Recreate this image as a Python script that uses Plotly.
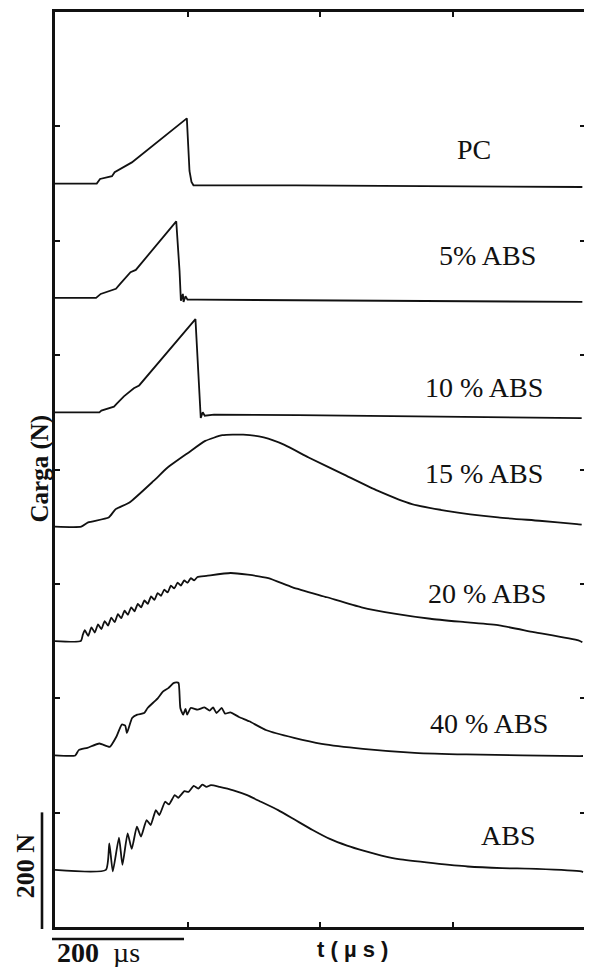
import plotly.graph_objects as go

# ---- data (t in microseconds, load in N relative to each trace baseline) ----
series_names = ["PC", "5% ABS", "10 % ABS", "15 % ABS", "20 % ABS", "40 % ABS", "ABS"]
baselines = [1300, 1100, 900, 700, 500, 300, 100]

t_pc = [0, 63, 68, 86, 90, 105, 116, 199, 203, 206, 209, 364, 796]
f_pc = [0, 0, 8, 13, 20, 30, 37, 114, 22, 3, -3, -3, -6]

t_5 = [0, 62, 69, 83, 92, 98, 110, 114, 122, 183, 188, 190, 193, 194, 197, 200, 215, 365, 796]
f_5 = [0, 0, 7, 12, 16, 24, 40, 45, 49, 134, 47, -5, 7, -7, 3, -3, -3, -4, -7]

t_10 = [0, 67, 70, 89, 94, 104, 119, 127, 212, 216, 219, 220, 223, 226, 240, 367, 795]
f_10 = [0, 0, 3, 10, 16, 28, 42, 47, 163, 73, 10, -10, 0, -6, -4, -5, -10]

t_15 = [0, 39.6, 50, 81, 91.6, 112.4, 148.8, 169.6, 200.8, 226.8, 252.8, 284, 315,
        346.4, 382.8, 434.8, 486.8, 538.8, 590.8, 668.8, 731.2, 788, 795]
f_15 = [0, 0, 7.5, 16, 30.7, 42.3, 80, 103, 129, 150, 160, 161, 156,
        143, 121, 92, 63, 39.4, 27.8, 16.2, 10.4, 4.6, 3.5]

t_20 = [0, 39, 42, 45, 50, 55, 60, 65, 70, 75, 80, 85, 90, 95, 100, 105, 110, 115, 120,
        125, 130, 135, 140, 145, 150, 155, 160, 165, 170, 175, 180, 185, 190, 195, 200,
        205, 210, 215, 228.6, 265, 291, 322, 358.6, 410.6, 462.6, 514.6, 566.6, 618.6,
        670.6, 722.6, 790, 796]
f_20 = [0, 0, 11, 19, 9, 24, 15, 29, 21, 35, 27, 41, 33, 47, 40, 53, 46, 59, 52,
        65, 59, 71, 65, 78, 72, 84, 79, 90, 85, 97, 92, 102, 97, 106, 102,
        110, 106, 112, 114, 119, 116, 110, 94, 76.6, 59, 47.6, 39, 33,
        27.3, 15.7, 1.2, -2]

t_40 = [0, 30.6, 35.8, 48.8, 67, 82.6, 93, 100.8, 106, 108.6, 116.4, 124.2, 134.6,
        139.8, 150.2, 155.4, 163.2, 171, 178.8, 184, 186.6, 189.2, 193.4, 197, 199.6,
        204.8, 215.2, 225.6, 233.4, 238.6, 243.8, 251.6, 256.8, 264.6, 277.6, 293.2,
        319.2, 360.8, 402.4, 464.8, 542.8, 620.8, 792.4, 797]
f_40 = [0, 0, 9.3, 13.3, 20.9, 15.1, 33.6, 54, 52.2, 39.4, 65.5, 71.3, 74.2,
        83, 94.5, 100.3, 112, 117.7, 126.4, 127.6, 126.4, 83, 71.3, 81.2, 71.3,
        83, 80, 84, 78.3, 84, 74.2, 83, 73, 75.4, 67.3, 59.7,
        44, 30.7, 20.3, 11.6, 4.6, 1.7, -1.2, -1]

t_abs = [0, 76.8, 82, 87.2, 96.6, 101.8, 109.6, 115.8, 123.6, 129.8, 138.2, 144.4,
         152.2, 157.4, 166.2, 172, 180.8, 186, 195.4, 201.6, 209.4, 216.2, 222.4,
         228.6, 235.4, 248.4, 269.2, 290, 310.8, 336.8, 362.8, 388.8, 414.8, 440.8,
         466.8, 492.8, 518.8, 570.8, 622.8, 674.8, 726.8, 794.4, 797]
f_abs = [0, 0, 46.4, -2.9, 56.3, 8.7, 63.8, 36.5, 75.4, 58, 87, 78.3,
         104.4, 95.7, 119, 114.3, 130.5, 126, 137.5, 136.3, 146.7, 142, 149,
         145, 148, 145, 139, 130.5, 119, 104.4, 87, 69.6, 54, 42.3,
         33, 25, 18.6, 11.6, 5.8, 2.9, 1.7, -2.9, -4]

y_ticks = [200, 400, 600, 800, 1000, 1200, 1400]
x_ticks = [200, 400, 600]

series_t = [t_pc, t_5, t_10, t_15, t_20, t_40, t_abs]
series_f = [f_pc, f_5, f_10, f_15, f_20, f_40, f_abs]
series_shape = ["linear", "linear", "linear", "spline", "spline", "spline", "spline"]

W, H = 592, 967
OFF = 8  # default page body margin
L, R, T, B = 47, 15, 1, 48


def px(xp):
    return (xp - OFF - L) / (W - L - R)


def py(yp):
    return (H - B - (yp - OFF)) / (H - T - B)


fig = go.Figure()
for name, base, ts, fs, shp in zip(series_names, baselines, series_t, series_f, series_shape):
    line = dict(color="#111111", width=1.8, shape=shp)
    if shp == "spline":
        line["smoothing"] = 0.5
    fig.add_trace(go.Scatter(
        x=ts, y=[base + v for v in fs], mode="lines", name=name,
        line=line, showlegend=False, hoverinfo="skip"))

# label positions (page pixels, centre)
label_px = [(474, 147), (487, 253), (484, 386), (484, 472), (487, 592), (489, 723), (508, 835)]
for name, (lx, ly) in zip(series_names, label_px):
    fig.add_annotation(x=px(lx), y=py(ly), xref="paper", yref="paper", text=name,
                       showarrow=False, xanchor="center", yanchor="middle",
                       font=dict(family="Liberation Serif", size=28, color="#111111"))

fig.add_annotation(x=px(40), y=py(467), xref="paper", yref="paper", text="<b>Carga (N)</b>",
                   textangle=-90, showarrow=False, xanchor="center", yanchor="middle",
                   font=dict(family="Liberation Serif", size=25, color="#111111"))
fig.add_annotation(x=px(352), y=py(950), xref="paper", yref="paper", text="<b>t ( µ s )</b>",
                   showarrow=False, xanchor="center", yanchor="middle",
                   font=dict(family="Liberation Sans", size=22, color="#111111"))
fig.add_annotation(x=px(25), y=py(866), xref="paper", yref="paper", text="<b>200 N</b>",
                   textangle=-90, showarrow=False, xanchor="center", yanchor="middle",
                   font=dict(family="Liberation Serif", size=26, color="#111111"))
fig.add_annotation(x=px(98), y=py(953), xref="paper", yref="paper", text="<b>200</b>  µs",
                   showarrow=False, xanchor="center", yanchor="middle",
                   font=dict(family="Liberation Serif", size=28, color="#111111"))

fig.add_shape(type="line", xref="paper", yref="paper", x0=px(42), x1=px(42), y0=py(812), y1=py(929),
              line=dict(color="#111111", width=2.6))
fig.add_shape(type="line", xref="paper", yref="paper", x0=px(52), x1=px(184), y0=py(939), y1=py(939),
              line=dict(color="#111111", width=2.6))

axis_common = dict(showline=True, linecolor="#111111", linewidth=2.6, mirror="ticks",
                   ticks="inside", ticklen=5, tickwidth=2, tickcolor="#111111",
                   showticklabels=False, showgrid=False, zeroline=False)
fig.update_xaxes(range=[0, 800], tickvals=x_ticks, **axis_common)
fig.update_yaxes(range=[0, 1600], tickvals=y_ticks, **axis_common)

fig.update_layout(width=W, height=H, margin=dict(l=L, r=R, t=T, b=B),
                  paper_bgcolor="white", plot_bgcolor="white")

fig.write_html("out.html")
